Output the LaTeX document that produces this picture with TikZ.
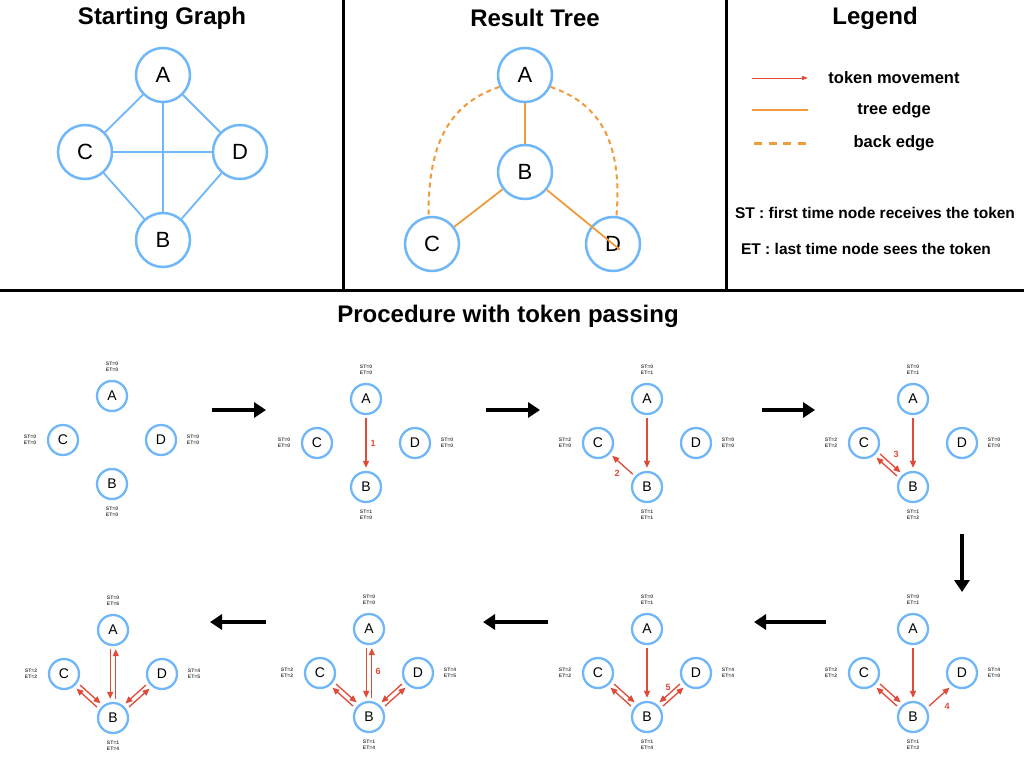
\documentclass[tikz,border=0pt]{standalone}
\usepackage{fontspec}
\setmainfont{Liberation Sans}
\usetikzlibrary{arrows.meta}

\definecolor{nodeblue}{RGB}{112,183,250}
\definecolor{tokred}{RGB}{224,74,56}
\definecolor{treeorange}{RGB}{240,155,60}

% one step of the procedure: prefix, centre x, centre y, labels of A, C, D, B
\newcommand{\tokenpanel}[7]{%
	\node[smallnode] (#1a) at (#2,#3-44) {A};
	\node[smallnode] (#1c) at (#2-49,#3) {C};
	\node[smallnode] (#1d) at (#2+49,#3) {D};
	\node[smallnode] (#1b) at (#2,#3+44) {B};
	\node[stlabel] (#1la) at (#2,#3-73) {#4};
	\node[stlabel] (#1lc) at (#2-82,#3) {#5};
	\node[stlabel] (#1ld) at (#2+81,#3) {#6};
	\node[stlabel] (#1lb) at (#2,#3+72) {#7};
}

\begin{document}
\begin{tikzpicture}[
		x=1pt, y=-1pt,
		bignode/.style={circle, draw=nodeblue, line width=2.5pt, minimum size=54pt, inner sep=0pt, font=\fontsize{22}{26}\selectfont},
		smallnode/.style={circle, draw=nodeblue, line width=2.3pt, minimum size=30pt, inner sep=0pt, font=\fontsize{14}{16}\selectfont},
		stlabel/.style={align=center, inner sep=0pt, text=black!75, font=\fontsize{5}{5.8}\selectfont\bfseries},
		title/.style={font=\fontsize{24}{28}\selectfont\bfseries},
		legendtext/.style={font=\fontsize{16.5}{20}\selectfont\bfseries},
		notetext/.style={font=\fontsize{15.5}{19}\selectfont\bfseries},
		divider/.style={line width=3pt},
		graphedge/.style={draw=nodeblue, line width=1.8pt},
		treeedge/.style={draw=treeorange, line width=1.8pt},
		backedge/.style={draw=treeorange, line width=2pt, dash pattern=on 5pt off 4pt},
		tok/.style={draw=tokred, line width=1.3pt, -{Triangle[length=7pt,width=6pt]}, shorten >=3pt, shorten <=3pt},
		tokno/.style={text=tokred, font=\fontsize{9}{11}\selectfont\bfseries},
		bigarrow/.style={line width=4pt, -{Triangle[length=12pt,width=15pt]}}
	]
	\fill[white] (0,0) rectangle (1024,768);
	\useasboundingbox (0,0) rectangle (1024,768);

	% frames
	\draw[divider] (0,290) -- (1024,290);
	\draw[divider] (343,0) -- (343,290);
	\draw[divider] (726,0) -- (726,290);

	\node[title] (t1) at (162,18) {Starting Graph};
	\node[title] (t2) at (535,18) {Result Tree};
	\node[title] (t3) at (875,18) {Legend};
	\node[title] (t4) at (508,316) {Procedure with token passing};

	% starting graph
	\node[bignode] (sa) at (163,75) {A};
	\node[bignode] (sc) at (85,152) {C};
	\node[bignode] (sd) at (240,152) {D};
	\node[bignode] (sb) at (163,240) {B};
	\draw[graphedge] (sa) -- (sc);
	\draw[graphedge] (sa) -- (sd);
	\draw[graphedge] (sc) -- (sb);
	\draw[graphedge] (sd) -- (sb);
	\draw[graphedge] (sc) -- (sd);
	\draw[graphedge] (sa) -- (sb);

	% result tree
	\node[bignode] (ra) at (525,75) {A};
	\node[bignode] (rb) at (525,172) {B};
	\node[bignode] (rc) at (432,244) {C};
	\node[bignode] (rd) at (613,244) {D};
	\draw[treeedge] (ra) -- (rb);
	\draw[treeedge] (rb) -- (rc);
	\draw[treeedge, shorten >=-9pt] (rb) -- (rd.center);
	\draw[backedge] (ra.205) .. controls (445,105) and (428,150) .. (rc.97);
	\draw[backedge] (ra.-25) .. controls (605,105) and (622,150) .. (rd.83);

	% legend
	\coordinate (l1s) at (752,78);
	\coordinate (l1e) at (808,78);
	\coordinate (l2s) at (752,110);
	\coordinate (l2e) at (808,110);
	\coordinate (l3s) at (754,143);
	\coordinate (l3e) at (808,143);
	\draw[draw=tokred, line width=1pt, -{Triangle[length=6pt,width=4pt]}] (l1s) -- (l1e);
	\draw[treeedge] (l2s) -- (l2e);
	\draw[backedge, line width=3pt, dash pattern=on 8pt off 6.5pt] (l3s) -- (l3e);
	\node[legendtext] (lt1) at (894,78) {token movement};
	\node[legendtext] (lt2) at (894,110) {tree edge};
	\node[legendtext] (lt3) at (894,143) {back edge};
	\node[notetext] (st) at (875,213) {ST : first time node receives the token};
	\node[notetext] (et) at (866,249) {ET : last time node sees the token};

	% procedure
	\tokenpanel{p1}{112}{440}{ST=0\\ET=0}{ST=0\\ET=0}{ST=0\\ET=0}{ST=0\\ET=0}
	\tokenpanel{p2}{366}{443}{ST=0\\ET=0}{ST=0\\ET=0}{ST=0\\ET=0}{ST=1\\ET=0}
	\tokenpanel{p3}{647}{443}{ST=0\\ET=1}{ST=2\\ET=0}{ST=0\\ET=0}{ST=1\\ET=1}
	\tokenpanel{p4}{913}{443}{ST=0\\ET=1}{ST=2\\ET=2}{ST=0\\ET=0}{ST=1\\ET=2}
	\tokenpanel{p5}{913}{673}{ST=0\\ET=1}{ST=2\\ET=2}{ST=4\\ET=0}{ST=1\\ET=3}
	\tokenpanel{p6}{647}{673}{ST=0\\ET=1}{ST=2\\ET=2}{ST=4\\ET=4}{ST=1\\ET=4}
	\tokenpanel{p7}{369}{673}{ST=0\\ET=0}{ST=2\\ET=2}{ST=4\\ET=5}{ST=1\\ET=4}
	\tokenpanel{p8}{113}{674}{ST=0\\ET=6}{ST=2\\ET=2}{ST=4\\ET=5}{ST=1\\ET=4}

	% steps between panels
	\foreach \n/\xa/\ya/\xb/\yb in {1/212/410/266/410, 2/486/410/540/410, 3/762/410/815/410,
			4/962/534/962/592, 5/826/622/754/622, 6/548/622/483/622, 7/266/622/210/622} {
			\coordinate (m\n s) at (\xa,\ya);
			\coordinate (m\n e) at (\xb,\yb);
			\draw[bigarrow] (m\n s) -- (m\n e);
		}

	% token moves
	\draw[tok] (p2a) -- (p2b);
	\node[tokno] (n1) at (373,443) {1};

	\draw[tok] (p3a) -- (p3b);
	\draw[tok] (p3b) -- (p3c);
	\node[tokno] (n2) at (617,473) {2};

	\draw[tok] (p4a) -- (p4b);
	\draw[tok, transform canvas={xshift=1.8pt, yshift=1.8pt}] (p4c) -- (p4b);
	\draw[tok, transform canvas={xshift=-1.8pt, yshift=-1.8pt}] (p4b) -- (p4c);
	\node[tokno] (n3) at (896,454) {3};

	\draw[tok] (p5a) -- (p5b);
	\draw[tok, transform canvas={xshift=1.8pt, yshift=1.8pt}] (p5c) -- (p5b);
	\draw[tok, transform canvas={xshift=-1.8pt, yshift=-1.8pt}] (p5b) -- (p5c);
	\draw[tok, transform canvas={xshift=1.8pt, yshift=-1.8pt}] (p5b) -- (p5d);
	\node[tokno] (n4) at (947,706) {4};

	\draw[tok] (p6a) -- (p6b);
	\draw[tok, transform canvas={xshift=1.8pt, yshift=1.8pt}] (p6c) -- (p6b);
	\draw[tok, transform canvas={xshift=-1.8pt, yshift=-1.8pt}] (p6b) -- (p6c);
	\draw[tok, transform canvas={xshift=-1.8pt, yshift=1.8pt}] (p6d) -- (p6b);
	\draw[tok, transform canvas={xshift=1.8pt, yshift=-1.8pt}] (p6b) -- (p6d);
	\node[tokno] (n5) at (668,687) {5};

	\draw[tok, transform canvas={xshift=-2.8pt}] (p7a) -- (p7b);
	\draw[tok, transform canvas={xshift=2.8pt}] (p7b) -- (p7a);
	\draw[tok, transform canvas={xshift=1.8pt, yshift=1.8pt}] (p7c) -- (p7b);
	\draw[tok, transform canvas={xshift=-1.8pt, yshift=-1.8pt}] (p7b) -- (p7c);
	\draw[tok, transform canvas={xshift=-1.8pt, yshift=1.8pt}] (p7d) -- (p7b);
	\draw[tok, transform canvas={xshift=1.8pt, yshift=-1.8pt}] (p7b) -- (p7d);
	\node[tokno] (n6) at (378,671) {6};

	\draw[tok, transform canvas={xshift=-2.8pt}] (p8a) -- (p8b);
	\draw[tok, transform canvas={xshift=2.8pt}] (p8b) -- (p8a);
	\draw[tok, transform canvas={xshift=1.8pt, yshift=1.8pt}] (p8c) -- (p8b);
	\draw[tok, transform canvas={xshift=-1.8pt, yshift=-1.8pt}] (p8b) -- (p8c);
	\draw[tok, transform canvas={xshift=-1.8pt, yshift=1.8pt}] (p8d) -- (p8b);
	\draw[tok, transform canvas={xshift=1.8pt, yshift=-1.8pt}] (p8b) -- (p8d);
\end{tikzpicture}
\end{document}
